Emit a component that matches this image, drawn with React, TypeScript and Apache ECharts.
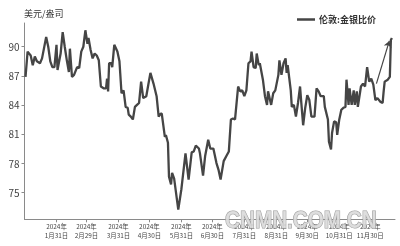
import React, { useEffect, useRef } from "react";
import * as echarts from "echarts";

// Day of year 2024 (Jan 1 = 1) and London gold/silver ratio
const days = [
  1, 3, 6, 8, 10, 12, 15, 17, 21, 23, 25, 27, 29, 31, 32, 35, 37, 39, 41, 43, 44, 46, 48, 51, 53, 55, 57, 59, 61, 62,
  64, 66, 68, 70, 72, 74, 77, 79, 80, 81, 82, 84, 85, 87, 90, 92, 94, 96, 98, 100, 101, 103, 105, 107, 109, 111, 113,
  115, 118, 120, 122, 125, 128, 130, 132, 133, 136, 137, 139, 140, 142, 143, 145, 149, 152, 156, 159, 162, 164, 166,
  169, 170, 173, 175, 178, 180, 183, 186, 188, 190, 193, 196, 198, 200, 202, 204, 207, 209, 211, 213, 215, 217, 219,
  220, 222, 224, 225, 227, 228, 231, 233, 235, 236, 239, 241, 243, 246, 247, 249, 251, 253, 254, 255, 258, 259, 261,
  263, 265, 267, 268, 270, 272, 274, 276, 278, 281, 283, 285, 287, 290, 291, 294, 295, 297, 298, 300, 302, 303, 305,
  307, 309, 311, 312, 314, 315, 317, 319, 320, 322, 323, 326, 328, 330, 332, 334, 336, 338, 340, 342, 345, 347, 348,
  349, 352, 354, 355, 356,
];
const ratios = [
  86.9, 89.5, 89.1, 88.1, 89.0, 88.5, 88.3, 88.8, 91.0, 90.0, 88.5, 87.9, 87.9, 90.2, 87.6, 89.3, 91.5, 90.0, 88.6,
  87.4, 89.8, 86.9, 87.1, 87.9, 87.8, 89.5, 90.0, 91.7, 90.3, 90.9, 89.7, 88.8, 89.3, 89.1, 88.6, 85.9, 85.7, 85.7,
  86.7, 85.4, 88.3, 88.3, 87.9, 90.2, 89.5, 88.5, 85.2, 85.5, 83.8, 83.7, 83.0, 82.8, 82.5, 83.8, 84.0, 84.2, 86.4,
  84.7, 84.9, 86.1, 87.3, 86.2, 84.9, 82.8, 83.1, 83.1, 80.7, 80.9, 80.1, 76.6, 75.8, 77.0, 76.4, 73.2, 75.3, 79.0,
  76.3, 79.1, 79.2, 79.8, 79.5, 79.0, 76.7, 78.7, 80.4, 79.5, 79.5, 78.0, 77.3, 76.3, 78.2, 78.8, 79.2, 82.5, 82.6,
  82.5, 85.9, 85.4, 85.5, 84.9, 85.5, 88.3, 88.5, 89.5, 87.9, 87.8, 89.3, 88.1, 88.3, 86.6, 84.9, 84.0, 85.4, 84.0,
  85.2, 85.5, 87.1, 88.6, 87.1, 88.3, 88.8, 87.3, 88.1, 85.5, 83.8, 84.0, 82.8, 84.2, 85.9, 84.5, 81.9, 83.7, 85.0,
  84.5, 82.8, 82.8, 85.7, 85.4, 84.9, 84.9, 83.8, 82.5, 80.2, 79.4, 81.1, 82.3, 82.2, 80.9, 82.5, 83.5, 83.7, 83.8,
  86.6, 84.0, 85.7, 84.0, 85.5, 84.0, 85.4, 83.8, 85.9, 86.2, 85.9, 87.9, 86.4, 86.7, 86.1, 84.5, 84.7, 84.3, 84.2,
  85.4, 86.4, 86.6, 86.9, 90.7, 90.9,
];

const xTickDays = [31, 60, 91, 121, 152, 182, 213, 244, 274, 305, 335];
const xTickYears = ["2024年", "2024年", "2024年", "2024年", "2024年", "2024年", "2024年", "2024年", "2024年", "2024年", "2024年"];
const xTickDates = ["1月31日", "2月29日", "3月31日", "4月30日", "5月31日", "6月30日", "7月31日", "8月31日", "9月30日", "10月31日", "11月30日"];
const yTicks = [75, 78, 81, 84, 87, 90];

// annotation arrow (day, ratio)
const arrowStart = [341, 86.2];
const arrowEnd = [353.5, 90.6];

const seriesName = "伦敦:金银比价";
const unitLabel = "美元/盎司";
const watermark = "CNMN.COM.CN";

const FONT = "'Noto Sans CJK SC', 'Noto Sans', sans-serif";
const AXIS_COLOR = "#8a8a8a";

export default function App() {
  const ref = useRef<HTMLDivElement>(null);
  useEffect(() => {
    if (!ref.current) return;
    const chart = echarts.init(ref.current, null, { renderer: "svg" });
    const data = days.map((d, i) => [d, ratios[i]]);
    const labelOf = (arr: string[]) => (v: number) => {
      const i = xTickDays.indexOf(Math.round(v));
      return i >= 0 ? arr[i] : "";
    };
    chart.setOption({
      animation: false,
      textStyle: { fontFamily: FONT },
      grid: { left: 24.5, right: 5, top: 23, bottom: 26.7, containLabel: false },
      legend: {
        show: true,
        left: 292,
        top: 10,
        icon: "rect",
        itemWidth: 18,
        itemHeight: 2.5,
        itemGap: 5,
        textStyle: { fontSize: 9, fontWeight: "bold", color: "#333", fontFamily: FONT, padding: [0, 0, 0, -1] },
        data: [seriesName],
      },
      graphic: [
        {
          type: "text",
          left: 24,
          top: 9,
          style: { text: unitLabel, fontSize: 9, fill: "#333", fontFamily: FONT },
        },
        {
          type: "text",
          x: 225,
          y: 209,
          scaleX: 0.9,
          z: 100,
          silent: true,
          style: {
            text: watermark,
            fontSize: 23,
            fontWeight: "bold",
            fontFamily: "'Liberation Sans', Arial, sans-serif",
            fill: "rgba(218,218,218,0.9)",
            stroke: "#9c9c9c",
            lineWidth: 1.1,
          },
        },
      ],
      xAxis: [
        {
          type: "value",
          min: 0,
          max: 359,
          position: "bottom",
          splitLine: { show: false },
          axisLine: { show: true, lineStyle: { color: AXIS_COLOR, width: 1 } },
          axisTick: { show: true, length: 3, customValues: xTickDays, lineStyle: { color: AXIS_COLOR } },
          axisLabel: {
            customValues: xTickDays,
            fontSize: 6.4,
            color: "#444",
            margin: 12.6,
            fontFamily: FONT,
            formatter: labelOf(xTickDates),
          },
        },
        {
          type: "value",
          min: 0,
          max: 359,
          position: "bottom",
          offset: 0,
          splitLine: { show: false },
          axisLine: { show: false },
          axisTick: { show: false },
          axisLabel: {
            customValues: xTickDays,
            fontSize: 6.4,
            color: "#444",
            margin: 4,
            fontFamily: FONT,
            formatter: labelOf(xTickYears),
          },
        },
      ],
      yAxis: {
        type: "value",
        min: 72.2,
        max: 92.45,
        splitLine: { show: false },
        axisLine: { show: true, lineStyle: { color: AXIS_COLOR, width: 1 } },
        axisTick: { show: true, length: 3, customValues: yTicks, lineStyle: { color: AXIS_COLOR } },
        axisLabel: { customValues: yTicks, fontSize: 10, color: "#444", margin: 5, fontFamily: FONT },
      },
      series: [
        {
          name: seriesName,
          type: "line",
          xAxisIndex: 0,
          data,
          showSymbol: false,
          symbol: "none",
          lineStyle: { color: "#454545", width: 2.3 },
          itemStyle: { color: "#454545" },
          markLine: {
            silent: true,
            symbol: ["none", "arrow"],
            symbolSize: 6,
            label: { show: false },
            lineStyle: { color: "#454545", width: 1.2, type: "solid" },
            data: [[{ coord: arrowStart }, { coord: arrowEnd }]],
          },
        },
      ],
    });
    return () => chart.dispose();
  }, []);
  return <div ref={ref} style={{ position: "fixed", left: 0, top: 0, width: 400, height: 246 }} />;
}
